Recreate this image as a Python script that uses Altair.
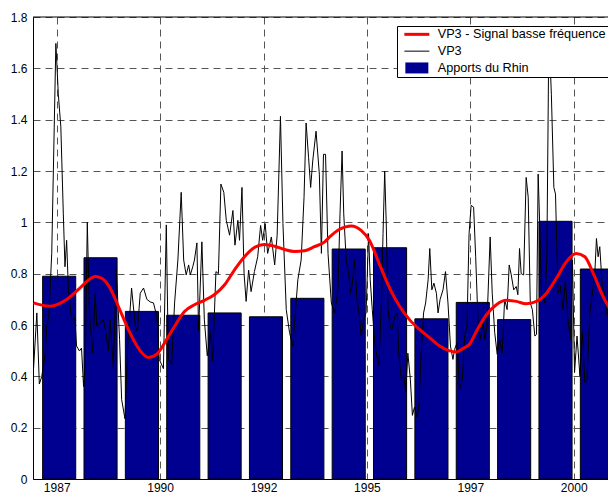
import altair as alt
import pandas as pd

# ---- data -------------------------------------------------------------
bar_years = [1987, 1988, 1989, 1990, 1991, 1992, 1993, 1994, 1995, 1996, 1997, 1998, 1999, 2000]
bar_values = [0.79, 0.862, 0.653, 0.638, 0.647, 0.632, 0.704, 0.896, 0.901, 0.624, 0.688, 0.621, 1.004, 0.818]

red_years = [1986.94, 1987.34, 1987.74, 1988.06, 1988.43, 1988.59, 1988.79, 1988.99, 1989.27, 1989.52,
             1989.72, 1989.92, 1990.16, 1990.35, 1990.59, 1990.83, 1991.07, 1991.31, 1991.56, 1991.80,
             1992.04, 1992.28, 1992.52, 1992.77, 1993.01, 1993.25, 1993.49, 1993.73, 1993.98, 1994.10,
             1994.34, 1994.62, 1994.86, 1995.06, 1995.31, 1995.55, 1995.79, 1996.03, 1996.27, 1996.52,
             1996.76, 1997.00, 1997.16, 1997.32, 1997.48, 1997.65, 1997.89, 1998.13, 1998.37, 1998.61,
             1998.85, 1999.10, 1999.34, 1999.58, 1999.82, 2000.06, 2000.27, 2000.47, 2000.71, 2000.91,
             2001.03]
red_values = [0.686, 0.673, 0.699, 0.744, 0.789, 0.782, 0.744, 0.673, 0.570, 0.499,
              0.473, 0.486, 0.544, 0.595, 0.653, 0.679, 0.696, 0.718, 0.757, 0.815,
              0.866, 0.902, 0.914, 0.907, 0.894, 0.886, 0.889, 0.905, 0.924, 0.943,
              0.973, 0.986, 0.969, 0.930, 0.834, 0.744, 0.673, 0.621, 0.583, 0.550,
              0.518, 0.499, 0.495, 0.508, 0.525, 0.576, 0.640, 0.679, 0.696, 0.692,
              0.683, 0.692, 0.724, 0.782, 0.846, 0.879, 0.866, 0.802, 0.711, 0.653,
              0.621]

vp3_years = [
    1986.94, 1987.02, 1987.08, 1987.14, 1987.22, 1987.26, 1987.31, 1987.38, 1987.44, 1987.48,
    1987.54, 1987.60, 1987.66, 1987.70, 1987.74, 1987.78, 1987.86, 1987.94, 1987.98, 1988.05,
    1988.10, 1988.15, 1988.19, 1988.24, 1988.29, 1988.37, 1988.43, 1988.47, 1988.55, 1988.63,
    1988.69, 1988.75, 1988.79, 1988.87, 1988.94, 1989.02, 1989.07, 1989.15, 1989.22, 1989.31,
    1989.40, 1989.45, 1989.52, 1989.60, 1989.68, 1989.76, 1989.84, 1989.92, 1989.98, 1990.08,
    1990.15, 1990.20, 1990.28,
    1990.35, 1990.43, 1990.51, 1990.57, 1990.63, 1990.69, 1990.73, 1990.79, 1990.83, 1990.89,
    1990.93, 1991.01, 1991.07, 1991.14, 1991.22, 1991.27, 1991.35, 1991.41, 1991.47, 1991.54,
    1991.60, 1991.68, 1991.76, 1991.81, 1991.88, 1991.92, 1991.98, 1992.03, 1992.08, 1992.14,
    1992.20, 1992.28, 1992.36, 1992.43, 1992.48, 1992.54, 1992.60, 1992.69, 1992.77, 1992.83,
    1992.91, 1992.97, 1993.05, 1993.13, 1993.21, 1993.33, 1993.41, 1993.48, 1993.53, 1993.59,
    1993.64, 1993.69, 1993.77, 1993.85,
    1993.90, 1993.95, 1994.00, 1994.06, 1994.14, 1994.22, 1994.30, 1994.35, 1994.40, 1994.44,
    1994.50, 1994.56, 1994.60, 1994.65, 1994.70, 1994.76, 1994.81, 1994.86, 1994.92, 1994.98,
    1995.04, 1995.08, 1995.13, 1995.19, 1995.24, 1995.29, 1995.35, 1995.39, 1995.43, 1995.47,
    1995.51, 1995.56, 1995.61, 1995.67, 1995.73, 1995.77, 1995.83, 1995.89, 1995.94, 1995.99,
    1996.05, 1996.10, 1996.15, 1996.21, 1996.26, 1996.31, 1996.37, 1996.42, 1996.48, 1996.52,
    1996.57, 1996.62, 1996.68, 1996.72, 1996.77, 1996.84, 1996.90, 1996.96, 1997.02, 1997.08,
    1997.12, 1997.18, 1997.24, 1997.31, 1997.36, 1997.42,
    1997.47, 1997.52, 1997.58, 1997.63, 1997.69, 1997.74, 1997.81, 1997.85, 1997.90, 1997.98,
    1998.03, 1998.09, 1998.15, 1998.21, 1998.27, 1998.33, 1998.39, 1998.44, 1998.49, 1998.55,
    1998.61, 1998.65, 1998.69, 1998.73, 1998.79, 1998.85, 1998.90, 1998.95, 1999.00, 1999.06,
    1999.10, 1999.14, 1999.18, 1999.22, 1999.30, 1999.35, 1999.40, 1999.46, 1999.52, 1999.56,
    1999.62, 1999.68, 1999.74, 1999.80, 1999.86, 1999.92, 1999.97, 2000.02, 2000.08, 2000.15,
    2000.21, 2000.27, 2000.32, 2000.39, 2000.45, 2000.51, 2000.55, 2000.59, 2000.63, 2000.69,
    2000.75, 2000.81, 2000.87, 2000.94, 2000.98, 2001.03]
vp3_values = [
    0.43, 0.647, 0.37, 0.40, 0.486, 0.596, 0.634, 0.879, 1.368, 1.697,
    1.497, 1.372, 1.033, 0.827, 0.93, 0.75, 0.62, 0.627, 0.518, 0.499,
    0.51, 0.36, 0.44, 1.0, 0.647, 0.49, 0.724, 0.596, 0.61, 0.62,
    0.57, 0.50, 0.62, 0.43, 0.82, 0.544, 0.31, 0.235, 0.53, 0.744,
    0.596, 0.576, 0.724, 0.744, 0.70, 0.69, 0.686, 0.634, 0.466, 0.43,
    0.99, 0.466, 0.447,
    0.686, 0.853, 1.117, 0.853, 0.795, 0.834, 0.795, 0.827, 0.853, 0.92,
    0.576, 0.924, 0.62, 0.48, 0.57, 0.46, 0.808, 0.80, 1.149, 1.117,
    1.008, 0.95, 1.046, 0.911, 1.008, 0.93, 1.136, 0.80, 0.692, 0.814,
    0.73, 0.808, 0.866, 0.988, 0.93, 0.995, 0.879, 0.943, 0.834, 0.95,
    1.413, 0.995, 0.66, 0.57, 0.518, 0.776, 0.853, 1.098, 1.387, 1.252,
    1.136, 1.239, 1.355, 1.188,
    0.879, 1.265, 1.265, 0.879, 0.686, 0.647, 0.737, 1.033, 1.278, 1.033,
    0.853, 0.80, 0.724, 0.763, 0.853, 0.70, 0.647, 0.557, 0.621, 0.647,
    0.956, 0.776, 0.66, 0.531, 0.48, 0.441, 0.686, 0.956, 1.2, 0.982,
    0.66, 0.596, 0.583, 0.634, 0.647, 0.49, 0.389, 0.402, 0.338, 0.49,
    0.389, 0.248, 0.28, 0.242, 0.286, 0.49, 0.647, 0.686, 0.776, 0.898,
    0.737, 0.763, 0.724, 0.647, 0.70, 0.737, 0.808, 0.686, 0.518, 0.466,
    0.505, 0.531, 0.35, 0.389, 0.557, 0.596,
    0.956, 1.066, 1.059, 0.866, 0.596, 0.544, 0.608, 0.544, 0.596, 0.943,
    0.724, 0.57, 0.486, 0.544, 0.49, 0.70, 0.66, 0.834, 0.795, 0.737,
    0.75, 0.718, 0.898, 0.80, 0.795, 1.175, 1.098, 0.686, 0.66, 0.557,
    0.563, 1.188, 0.982, 0.724, 0.686, 0.853, 1.75, 1.497, 1.136, 1.11,
    0.724, 0.75, 0.66, 0.776, 0.621, 0.544, 0.853, 0.415, 0.557, 0.402,
    0.57, 0.376, 0.389, 0.647, 0.724, 0.80, 0.937, 0.866, 0.905, 0.75,
    0.724, 0.634, 0.70, 0.596, 0.70, 0.596]

x_ticks = [1987.5, 1990, 1992.5, 1995, 1997.5, 2000]
y_ticks = [0, 0.2, 0.4, 0.6, 0.8, 1.0, 1.2, 1.4, 1.6, 1.8]
X_DOMAIN = [1986.927, 2000.829]
Y_DOMAIN = [0, 1.8]

series_names = ["VP3 - Signal basse fréquence", "VP3", "Apports du Rhin"]
series_colors = ["#ff0000", "#000000", "#000090"]
series_shapes = ["M-0.2,-0.3H4.8V0.3H-0.2Z",
                 "M-0.2,-0.1H4.8V0.1H-0.2Z",
                 "M0,-1.1H4.6V1.1H0Z"]

# ---- tables ------------------------------------------------------------
bar_df = pd.DataFrame({"year": bar_years, "apports": bar_values})
bar_df["x0"] = bar_df["year"] + 0.16
bar_df["x1"] = bar_df["year"] + 0.96
vp3_df = pd.DataFrame({"t": vp3_years, "vp3": vp3_values})
red_df = pd.DataFrame({"t": red_years, "lf": red_values})
leg_df = pd.DataFrame({"series": series_names})
top_df = pd.DataFrame({"top": [Y_DOMAIN[1]]})

FONT = "Liberation Sans"

x_scale = alt.Scale(domain=X_DOMAIN, nice=False, zero=False)
y_scale = alt.Scale(domain=Y_DOMAIN, nice=False)

x_axis = alt.Axis(values=x_ticks, labelExpr="floor(datum.value) + ''", title=None,
                  grid=True, gridDash=[7, 5], gridColor="#555555", gridOpacity=1,
                  ticks=False, labelPadding=3, domainColor="black",
                  labelFont=FONT, labelFontSize=12, labelColor="black")
y_axis = alt.Axis(values=y_ticks, format="~g", title=None,
                  grid=True, gridDash=[7, 5], gridColor="#555555", gridOpacity=1,
                  ticks=False, labelPadding=6, domainColor="black",
                  labelFont=FONT, labelFontSize=12, labelColor="black")

bars = alt.Chart(bar_df).mark_bar(color="#000090", stroke="black", strokeWidth=1).encode(
    x=alt.X("x0:Q", scale=x_scale, axis=x_axis),
    x2="x1:Q",
    y=alt.Y("apports:Q", scale=y_scale, axis=y_axis),
    y2=alt.datum(0),
)

vp3 = alt.Chart(vp3_df).mark_line(color="black", strokeWidth=1, clip=True).encode(
    x="t:Q", y="vp3:Q"
)

red = alt.Chart(red_df).mark_line(color="#ff0000", strokeWidth=3, clip=True,
                                  interpolate="monotone").encode(
    x="t:Q", y="lf:Q"
)

top = alt.Chart(top_df).mark_rule(color="black", strokeWidth=1).encode(y="top:Q")

legend = alt.Legend(orient="none", legendX=364, legendY=9, title=None, padding=2,
                    rowPadding=2.8, symbolSize=100, symbolStrokeWidth=0, symbolOpacity=1,
                    labelOffset=26, labelFont=FONT, labelFontSize=12.7, labelColor="black",
                    labelLimit=400, strokeColor="black", fillColor="white")

leg = alt.Chart(leg_df).mark_point(filled=True, opacity=0).encode(
    color=alt.Color("series:N", scale=alt.Scale(domain=series_names, range=series_colors),
                    legend=legend),
    shape=alt.Shape("series:N", scale=alt.Scale(domain=series_names, range=series_shapes),
                    legend=legend),
)

chart = alt.layer(bars, vp3, red, top, leg).properties(
    width=575, height=462,
    autosize=alt.AutoSizeParams(type="none"),
    padding={"left": 25, "top": 9, "right": 0, "bottom": 14},
    background="white",
).configure_view(stroke=None)

chart.save("out.html", embed_options={"renderer": "svg", "actions": False})
